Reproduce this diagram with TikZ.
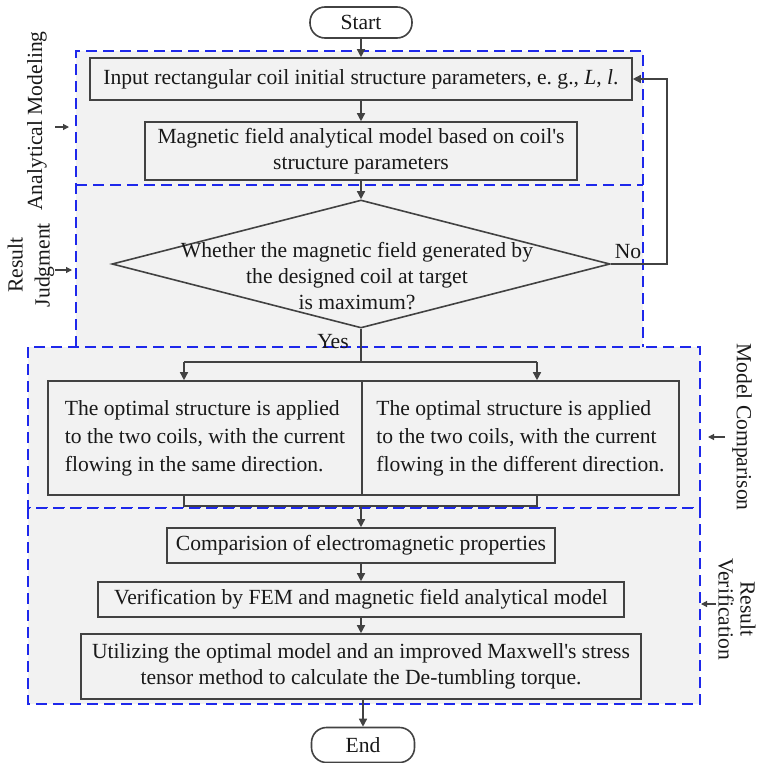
\documentclass[tikz,border=0pt]{standalone}
\usepackage{fontspec}
\setmainfont{Liberation Serif}
\usetikzlibrary{shapes.geometric,arrows.meta}
\definecolor{blu}{RGB}{30,40,235}
\definecolor{bg}{RGB}{242,242,242}
\definecolor{ink}{RGB}{66,66,66}
\definecolor{txt}{RGB}{25,25,25}
\begin{document}
\begin{tikzpicture}[x=1pt,y=-1pt,
  every node/.style={text=txt,font=\fontsize{21.6}{26}\selectfont},
  box/.style={draw=ink,line width=1.6pt,fill=bg,rectangle,inner sep=0pt,align=center},
  term/.style={draw=ink,line width=1.6pt,fill=white,rectangle,rounded corners=15pt,inner sep=0pt},
  region/.style={draw=blu,line width=1.8pt,dash pattern=on 11pt off 6pt,fill=bg},
  arr/.style={draw=ink,line width=1.4pt,-{Triangle[length=8pt,width=8pt]}},
  ln/.style={draw=ink,line width=1.4pt},
  side/.style={align=center,font=\fontsize{21.6}{27}\selectfont},
  sarr/.style={draw=ink,line width=1.2pt,-{Triangle[length=6pt,width=6pt]}}]
\useasboundingbox (0,0) rectangle (760,763);
% regions
\path[fill=bg] (76,51) rectangle (643,347);
\draw[region,fill=none] (76,347) -- (76,51) -- (643,51) -- (643,347);
\draw[region,fill=none] (76,185) -- (643,185);
\draw[region] (28,347) rectangle (700,508);
\draw[region] (28,508) rectangle (700,704);
% nodes
\node[term,minimum width=102,minimum height=31] (start) at (361,22.5) {Start};
\node[box,minimum width=542,minimum height=42] (in) at (361,79) {Input rectangular coil initial structure parameters, e.\ g., \textit{L}, \textit{l}.};
\node[box,minimum width=432,minimum height=58] (mag) at (361,151) {Magnetic field analytical model based on coil\textquotesingle s\\structure parameters};
\node[diamond,draw=ink,line width=1.6pt,fill=bg,inner sep=0pt,minimum width=498,minimum height=128] (dec) at (361,264) {};
\node[align=center,font=\fontsize{21.6}{26}\selectfont] (dect) at (357,276) {Whether the magnetic field generated by\\the designed coil at target\\is maximum?};
\node (nolab) at (628,252) {No};
\coordinate (loop) at (667,79);
\coordinate (split) at (361,362);
\coordinate (bl) at (184,362);
\coordinate (br) at (537,362);
\node[box,align=left,minimum width=314,minimum height=114,font=\fontsize{21.6}{28}\selectfont] (left) at (205,438) {The optimal structure is applied\\to the two coils, with the current\\flowing in the same direction.};
\node[box,align=left,minimum width=317,minimum height=114,font=\fontsize{21.6}{28}\selectfont] (right) at (520.5,438) {The optimal structure is applied\\to the two coils, with the current\\flowing in the different direction.};
\coordinate (merge) at (361,506);
\node[box,minimum width=388,minimum height=35] (cmp) at (361,545.5) {Comparision of electromagnetic properties};
\node[box,minimum width=526,minimum height=35] (ver) at (361,599.5) {Verification by FEM and magnetic field analytical model};
\node[box,minimum width=560,minimum height=65] (uti) at (361,666.5) {Utilizing the optimal model and an improved Maxwell\textquotesingle s stress\\tensor method to calculate the De-tumbling torque.};
\node[term,minimum width=103,minimum height=35] (end) at (363,745) {End};
\node (yes) at (333,342) {Yes};
% connectors
\draw[arr] (start) -- (in);
\draw[arr] (in.south -| mag.north) -- (mag.north);
\draw[arr] (mag.south -| dec.north) -- (dec.north);
\draw[arr] (dec.east) -| (loop) -- (in.east);
\draw[ln] (dec.south) -- (split);
\draw[ln] (bl) -- (br);
\draw[arr] (bl) -- (bl |- left.north);
\draw[arr] (br) -- (br |- right.north);
\draw[ln] (bl |- left.south) -- (bl |- merge) -- (br |- merge) -- (br |- right.south);
\draw[arr] (merge) -- (merge |- cmp.north);
\draw[arr] (cmp.south -| ver.north) -- (ver.north);
\draw[arr] (ver.south -| uti.north) -- (uti.north);
\draw[arr] (uti.south -| end.north) -- (end.north);
% side labels
\node[side,rotate=90] (lab1) at (37,121) {Analytical Modeling};
\coordinate (a1) at (55,127); \coordinate (b1) at (69,127);
\draw[sarr] (a1) -- (b1);
\node[side,rotate=90] (lab2) at (31,265) {Result\\Judgment};
\coordinate (a2) at (55,270); \coordinate (b2) at (72,270);
\draw[sarr] (a2) -- (b2);
\node[side,rotate=-90] (lab3) at (742,427) {Model Comparison};
\coordinate (a3) at (725,437); \coordinate (b3) at (708,437);
\draw[sarr] (a3) -- (b3);
\node[side,rotate=-90,font=\fontsize{21.6}{22}\selectfont] (lab4) at (737,609) {Result\\Verification};
\coordinate (a4) at (716,604); \coordinate (b4) at (701,604);
\draw[sarr] (a4) -- (b4);
\end{tikzpicture}
\end{document}
